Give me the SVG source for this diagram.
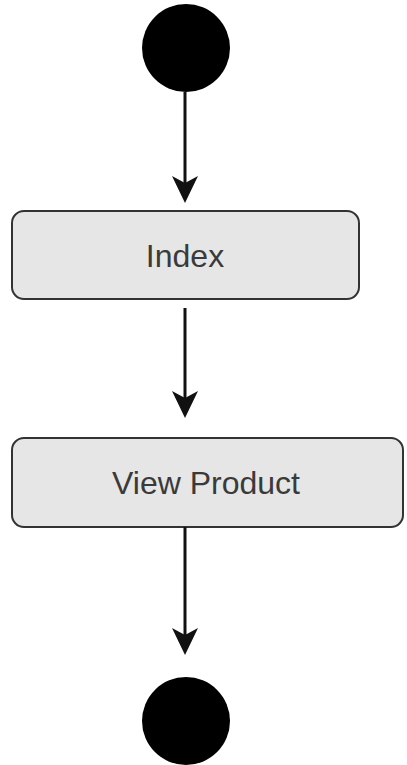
<svg xmlns="http://www.w3.org/2000/svg" width="407" height="765" viewBox="0 0 407 765">
<defs>
<style>
.node rect{fill:#e6e6e6;stroke:#333;stroke-width:2}
.node text{font-family:"Liberation Sans",Arial,sans-serif;font-size:32px;fill:#3a3a3a;text-anchor:middle}
.dot{fill:#000}
.edge{stroke:#111;stroke-width:3;fill:none}
.head{fill:#111}
</style>
<path id="arrowhead" class="head" d="M0,0 L-13,-27 L0,-20 L13,-27 Z"/>
</defs>
<rect width="407" height="765" fill="#fff"/>
<g id="start"><circle class="dot" cx="186" cy="48" r="44"/></g>
<g id="index" class="node"><rect x="12" y="211" width="347" height="88" rx="12"/><text x="185" y="267">Index</text></g>
<g id="view-product" class="node"><rect x="12" y="438" width="391" height="89" rx="12"/><text x="206" y="494">View Product</text></g>
<g id="end"><circle class="dot" cx="186" cy="721" r="44"/></g>
<g id="connectors">
<path class="edge" d="M185,92 V185"/>
<use href="#arrowhead" x="185" y="203"/>
<path class="edge" d="M185,308 V400"/>
<use href="#arrowhead" x="185" y="418"/>
<path class="edge" d="M185,527 V637"/>
<use href="#arrowhead" x="185" y="655"/>
</g>
</svg>
